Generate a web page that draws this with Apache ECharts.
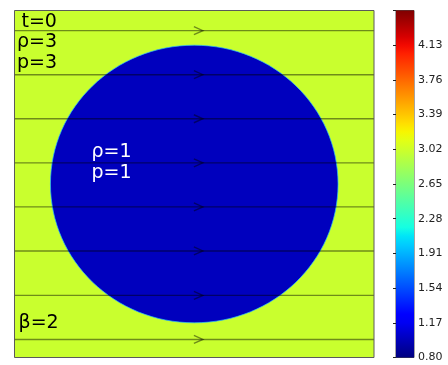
<!DOCTYPE html>
<html>
<head>
<meta charset="utf-8">
<script src="https://cdn.jsdelivr.net/npm/echarts@6/dist/echarts.min.js"></script>
<style>
  html, body { margin: 0; padding: 0; background: #ffffff; }
  #chart { width: 448px; height: 365px; }
</style>
</head>
<body>
<div id="chart"></div>
<script>
// Initial state of the blast problem: dense outer medium, light bubble
const outerDensity = 3;
const outerPressure = 3;
const innerDensity = 1;
const innerPressure = 1;
const bubbleCenter = [0.5, 0.5];
const bubbleRadius = 0.4;
const timeLabel = 't=0';
const betaLabel = 'β=2';

// Field lines (y positions in the unit domain) and where their arrows sit
const fieldLineY = [0.052, 0.179, 0.307, 0.434, 0.561, 0.688, 0.815, 0.942];
const arrowX = 0.524;

// Colour bar range and tick labels
const colorMin = 0.8;
const colorMax = 4.5;
const colorTickLabels = ['0.80', '1.17', '1.54', '1.91', '2.28', '2.65', '3.02', '3.39', '3.76', '4.13'];

// Matplotlib-style "jet" colormap
function jet(t) {
  t = Math.max(0, Math.min(1, t));
  function seg(pts) {
    for (let i = 1; i < pts.length; i++) {
      if (t <= pts[i][0]) {
        const a = pts[i - 1], b = pts[i];
        return a[1] + (b[1] - a[1]) * (t - a[0]) / (b[0] - a[0]);
      }
    }
    return pts[pts.length - 1][1];
  }
  const r = seg([[0, 0], [0.35, 0], [0.66, 1], [0.89, 1], [1, 0.5]]);
  const g = seg([[0, 0], [0.125, 0], [0.375, 1], [0.64, 1], [0.91, 0], [1, 0]]);
  const b = seg([[0, 0.5], [0.11, 1], [0.34, 1], [0.65, 0], [1, 0]]);
  return 'rgb(' + Math.round(r * 255) + ',' + Math.round(g * 255) + ',' + Math.round(b * 255) + ')';
}
function colorOf(v) { return jet((v - colorMin) / (colorMax - colorMin)); }

const gradientStops = [];
for (let i = 0; i <= 40; i++) {
  gradientStops.push({ offset: 1 - i / 40, color: jet(i / 40) });
}

const chart = echarts.init(document.getElementById('chart'), null, { renderer: 'canvas' });

const textFont = 'DejaVu Sans';
function label(text, x, y, color) {
  return {
    type: 'text', x: x, y: y, z: 100,
    style: { text: text, fill: color, font: '19px "' + textFont + '"', textVerticalAlign: 'middle', verticalAlign: 'middle' }
  };
}

const option = {
  animation: false,
  backgroundColor: '#ffffff',
  grid: [
    { left: 14.5, top: 10.5, width: 359.5, height: 347, show: true, borderColor: '#5a5a5a', borderWidth: 1, backgroundColor: 'transparent', z: 10 },
    { left: 396, top: 10.5, width: 18, height: 347, show: true, borderColor: '#4a4a4a', borderWidth: 1, backgroundColor: 'transparent' }
  ],
  xAxis: [
    { gridIndex: 0, type: 'value', min: 0, max: 1, show: false },
    { gridIndex: 1, type: 'value', min: 0, max: 1, show: false }
  ],
  yAxis: [
    { gridIndex: 0, type: 'value', min: 0, max: 1, show: false },
    {
      gridIndex: 1, type: 'value', min: 0, max: colorTickLabels.length, interval: 1, position: 'right',
      axisLine: { show: false },
      splitLine: { show: false },
      axisTick: { show: true, inside: true, length: 3, lineStyle: { color: '#222', width: 1 } },
      axisLabel: {
        margin: 4, color: '#222', fontSize: 11, fontFamily: textFont,
        formatter: function (v) { return colorTickLabels[Math.round(v)] || ''; }
      }
    }
  ],
  series: [
    {
      // density field: outer medium and circular bubble
      type: 'custom', xAxisIndex: 0, yAxisIndex: 0, z: 1,
      data: [[bubbleCenter[0], bubbleCenter[1], bubbleRadius, outerDensity, innerDensity]],
      renderItem: function (params, api) {
        const c = api.coord([api.value(0), api.value(1)]);
        const r = api.value(2);
        const sz = api.size([r, r]);
        const tl = api.coord([0, 1]);
        const br = api.coord([1, 0]);
        return {
          type: 'group',
          children: [
            { type: 'rect', shape: { x: tl[0], y: tl[1], width: br[0] - tl[0], height: br[1] - tl[1] }, style: { fill: colorOf(api.value(3)) } },
            { type: 'ellipse', shape: { cx: c[0], cy: c[1], rx: sz[0], ry: sz[1] }, style: { fill: colorOf(api.value(4)), stroke: 'rgba(40,190,255,0.7)', lineWidth: 1 } }
          ]
        };
      }
    },
    {
      // horizontal field lines with arrowheads
      type: 'custom', xAxisIndex: 0, yAxisIndex: 0, z: 3,
      data: fieldLineY.map(function (y) { return [arrowX, y]; }),
      renderItem: function (params, api) {
        const y = api.value(1);
        const a = api.coord([0, y]);
        const b = api.coord([1, y]);
        const tip = api.coord([api.value(0), y]);
        const stroke = 'rgba(0,0,0,0.45)';
        return {
          type: 'group',
          children: [
            { type: 'line', shape: { x1: a[0], y1: a[1], x2: b[0], y2: b[1] }, style: { stroke: stroke, lineWidth: 1.4 } },
            { type: 'polyline', shape: { points: [[tip[0] - 9, tip[1] - 4], [tip[0], tip[1]], [tip[0] - 9, tip[1] + 4]] }, style: { stroke: stroke, lineWidth: 1.4, fill: 'none' } }
          ]
        };
      }
    },
    {
      // colour bar
      type: 'custom', xAxisIndex: 1, yAxisIndex: 1, z: 1,
      data: [[0, 0, 1, colorTickLabels.length]],
      renderItem: function (params, api) {
        const p0 = api.coord([api.value(0), api.value(3)]);
        const p1 = api.coord([api.value(2), api.value(1)]);
        return {
          type: 'rect',
          shape: { x: p0[0], y: p0[1], width: p1[0] - p0[0], height: p1[1] - p0[1] },
          style: { fill: new echarts.graphic.LinearGradient(0, 0, 0, 1, gradientStops) }
        };
      }
    }
  ],
  graphic: [
    label(timeLabel, 21.5, 22.5, '#000'),
    label('ρ=' + outerDensity, 17, 42.5, '#000'),
    label('p=' + outerPressure, 17, 63.5, '#000'),
    label(betaLabel, 18.5, 323, '#000'),
    label('ρ=' + innerDensity, 91.5, 152.5, '#fff'),
    label('p=' + innerPressure, 91.5, 173.5, '#fff')
  ]
};

chart.setOption(option);
</script>
</body>
</html>
